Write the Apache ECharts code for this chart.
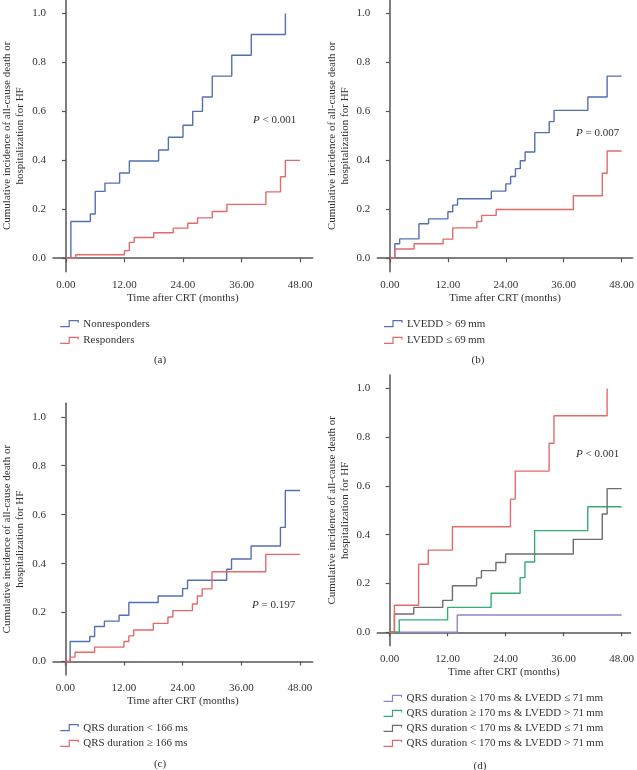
<!DOCTYPE html>
<html><head><meta charset="utf-8">
<script src="https://cdn.jsdelivr.net/npm/echarts@6/dist/echarts.min.js"></script>
<style>html,body{margin:0;padding:0;background:#fff}#c{width:637px;height:770px}</style>
</head><body><div id="c"></div>
<script>
// ---- tick labels ----
const xTicks = [0, 12, 24, 36, 48];
const yTicks = [0, 0.2, 0.4, 0.6, 0.8, 1.0];

// ---- panel (a) ----
const aNonT = [0, 1, 5, 6, 8, 11, 13, 19, 21, 24, 26, 28, 30, 34, 38, 45];
const aNonV = [0, 0.150, 0.181, 0.273, 0.307, 0.348, 0.397, 0.442, 0.494, 0.543, 0.600, 0.659, 0.744, 0.829, 0.914, 1.0];
const aResT = [0, 2, 12, 13, 14, 18, 22, 25, 27, 30, 33, 41, 44, 45, 48];
const aResV = [0, 0.014, 0.031, 0.065, 0.085, 0.104, 0.123, 0.143, 0.165, 0.191, 0.220, 0.271, 0.333, 0.400, 0.400];

// ---- panel (b) ----
const bHiT = [0, 1, 2, 6, 8, 12, 13, 14, 21, 24, 25, 26, 27, 28, 30, 33, 34, 41, 45, 48];
const bHiV = [0, 0.059, 0.079, 0.141, 0.161, 0.190, 0.217, 0.243, 0.274, 0.304, 0.334, 0.366, 0.398, 0.434, 0.513, 0.558, 0.604, 0.659, 0.744, 0.744];
const bLoT = [0, 1, 5, 11, 13, 18, 19, 22, 38, 44, 45, 48];
const bLoV = [0, 0.038, 0.059, 0.078, 0.124, 0.150, 0.175, 0.199, 0.255, 0.347, 0.438, 0.438];

// ---- panel (c) ----
const cLtT = [0, 1, 5, 6, 8, 11, 13, 19, 24, 25, 33, 34, 38, 44, 45, 48];
const cLtV = [0, 0.082, 0.102, 0.143, 0.165, 0.189, 0.241, 0.268, 0.298, 0.332, 0.377, 0.419, 0.472, 0.548, 0.699, 0.699];
const cGeT = [0, 1, 2, 6, 12, 13, 14, 18, 21, 22, 26, 27, 28, 30, 41, 48];
const cGeV = [0, 0.018, 0.038, 0.059, 0.082, 0.105, 0.129, 0.156, 0.182, 0.208, 0.235, 0.268, 0.297, 0.367, 0.438, 0.438];

// ---- panel (d) ----
const dPurT = [0, 14, 48];
const dPurV = [0, 0.071, 0.071];
const dGrnT = [0, 2, 12, 21, 27, 28, 30, 41, 48];
const dGrnV = [0, 0.051, 0.102, 0.160, 0.224, 0.288, 0.417, 0.515, 0.515];
const dGryT = [0, 1, 5, 11, 13, 18, 19, 22, 24, 38, 44, 45, 48];
const dGryV = [0, 0.075, 0.102, 0.131, 0.191, 0.223, 0.253, 0.286, 0.321, 0.381, 0.485, 0.589, 0.589];
const dRedT = [0, 1, 6, 8, 13, 25, 26, 33, 34, 45];
const dRedV = [0, 0.111, 0.279, 0.337, 0.433, 0.546, 0.661, 0.775, 0.888, 1.0];

const names = {
  a: ['Nonresponders', 'Responders'],
  b: ['LVEDD > 69\u2009mm', 'LVEDD \u2264 69\u2009mm'],
  c: ['QRS duration < 166 ms', 'QRS duration \u2265 166 ms'],
  d: ['QRS duration \u2265 170 ms & LVEDD \u2264 71\u2009mm', 'QRS duration \u2265 170 ms & LVEDD > 71\u2009mm',
      'QRS duration < 170 ms & LVEDD \u2264 71\u2009mm', 'QRS duration < 170 ms & LVEDD > 71\u2009mm']
};

const BLUE = '#5470b2', RED = '#e46a6a', GREEN = '#35ad72', GRAY = '#6e6e6e', PURPLE = '#8b87c8';
const FONT = 'Liberation Serif';
const zip = (t, v) => t.map((x, i) => [x, v[i]]);

const grids = [
  { left: 52.7, top: 0, width: 260, height: 271.7 },
  { left: 377.3, top: 0, width: 255.7, height: 271.7 },
  { left: 52.7, top: 403.3, width: 260, height: 271.7 },
  { left: 377.3, top: 375, width: 255.7, height: 270.7 }
];
const xRanges = [[-2.66, 50.6], [-2.63, 50.28], [-2.51, 50.6], [-2.54, 49.85]];

const axisLine = { lineStyle: { color: '#555', width: 1.5 } };
const axisTick = { length: 4, lineStyle: { color: '#555', width: 1.2 } };

const xAxes = grids.map((g, i) => ({
  type: 'value', gridIndex: i, min: xRanges[i][0], max: xRanges[i][1],
  splitLine: { show: false }, axisLine,
  axisTick: Object.assign({ customValues: xTicks }, axisTick),
  axisLabel: { customValues: xTicks, formatter: v => v.toFixed(2), margin: 8, fontFamily: FONT, fontSize: 11, color: '#333' },
  name: 'Time after CRT (months)', nameLocation: 'middle', nameGap: 21,
  nameTextStyle: { fontFamily: FONT, fontSize: 11, color: '#333' }
}));
const yAxes = grids.map((g, i) => ({
  type: 'value', gridIndex: i, min: -0.055, max: 1.055,
  splitLine: { show: false }, axisLine,
  axisTick: Object.assign({ customValues: yTicks }, axisTick),
  axisLabel: { customValues: yTicks, formatter: v => v.toFixed(1), margin: 7, fontFamily: FONT, fontSize: 11, color: '#333' },
  name: 'Cumulative incidence of all-cause death or\nhospitalization for HF', nameLocation: 'middle', nameGap: 26,
  nameTextStyle: { fontFamily: FONT, fontSize: 11, color: '#333', lineHeight: 13 }
}));

function mk(name, idx, t, v, color) {
  return {
    type: 'line', name, xAxisIndex: idx, yAxisIndex: idx, step: 'end', showSymbol: false,
    data: zip(t, v), lineStyle: { color, width: 1.4 }, itemStyle: { color }, animation: false
  };
}
const series = [
  mk(names.a[0], 0, aNonT, aNonV, BLUE), mk(names.a[1], 0, aResT, aResV, RED),
  mk(names.b[0], 1, bHiT, bHiV, BLUE), mk(names.b[1], 1, bLoT, bLoV, RED),
  mk(names.c[0], 2, cLtT, cLtV, BLUE), mk(names.c[1], 2, cGeT, cGeV, RED),
  mk(names.d[0], 3, dPurT, dPurV, PURPLE), mk(names.d[1], 3, dGrnT, dGrnV, GREEN),
  mk(names.d[2], 3, dGryT, dGryV, GRAY), mk(names.d[3], 3, dRedT, dRedV, RED)
];

const stepIcon = 'path://M0,10L9,10L9,0L18,0L18,3.5';
function lg(nms, cols, left, top, gap) {
  return {
    orient: 'vertical', left, top, itemWidth: 18, itemHeight: 6, itemGap: gap,
    selectedMode: false, symbolKeepAspect: false,
    data: nms.map((n, i) => ({ name: n, icon: stepIcon,
      itemStyle: { color: 'none', borderColor: cols[i], borderWidth: 1.2, opacity: 1 } })),
    itemStyle: { color: 'none', borderWidth: 1.2 },
    textStyle: { fontFamily: FONT, fontSize: 11, color: '#333', lineHeight: 14 }
  };
}
const legends = [
  lg(names.a, [BLUE, RED], 52.7, 311.7, 2.6),
  lg(names.b, [BLUE, RED], 376.5, 311.7, 2.6),
  lg(names.c, [BLUE, RED], 52.7, 715.7, 1.6),
  lg(names.d, [PURPLE, GREEN, GRAY, RED], 376, 686.3, 1)
];

function ptext(x, y, rest) {
  return { type: 'text', x, y, style: { text: '{i|P} ' + rest, font: '11px ' + FONT, fill: '#333',
    textVerticalAlign: 'middle', rich: { i: { fontStyle: 'italic', fontFamily: FONT, fontSize: 11 } } } };
}
function ltext(x, y, t) {
  return { type: 'text', x, y, style: { text: t, font: '11px ' + FONT, fill: '#333', textAlign: 'center', textVerticalAlign: 'middle' } };
}
const graphic = [
  ptext(253, 120, '< 0.001'), ptext(576, 133, '= 0.007'), ptext(252, 605, '= 0.197'), ptext(576, 454, '< 0.001'),
  ltext(160, 360, '(a)'), ltext(478, 360, '(b)'), ltext(160, 764, '(c)'), ltext(480, 766, '(d)')
];

const chart = echarts.init(document.getElementById('c'));
chart.setOption({
  animation: false, backgroundColor: '#fff',
  grid: grids, xAxis: xAxes, yAxis: yAxes, series, legend: legends, graphic
});
</script></body></html>
